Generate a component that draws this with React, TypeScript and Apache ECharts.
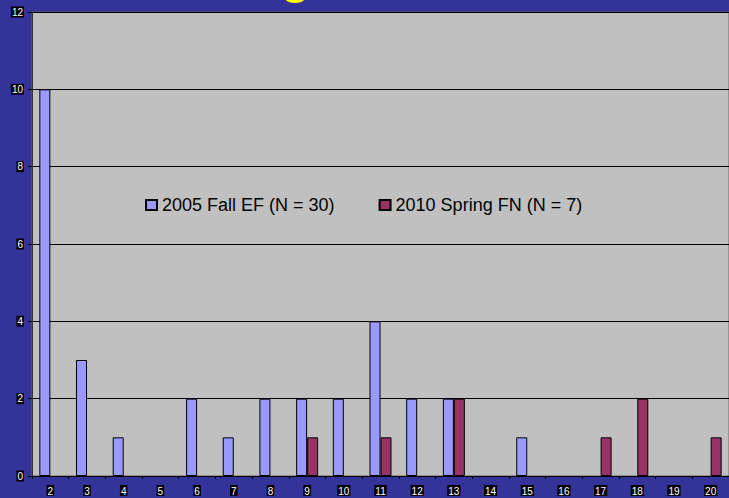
import React, { useEffect, useRef } from "react";
import * as echarts from "echarts";

const categories = ["2","3","4","5","6","7","8","9","10","11","12","13","14","15","16","17","18","19","20"];
const fall2005 = [10,3,1,0,2,1,2,2,2,4,2,2,0,1,0,0,0,0,0];
const spring2010 = [0,0,0,0,0,0,0,1,0,1,0,2,0,0,0,1,2,0,1];
const seriesNames = ["2005 Fall EF (N = 30)", "2010 Spring FN (N = 7)"];

const toBars = (arr: number[]) => arr.map((v) => (v === 0 ? null : v));

export default function App() {
  const ref = useRef<HTMLDivElement>(null);
  useEffect(() => {
    if (!ref.current) return;
    const chart = echarts.init(ref.current, null, { renderer: "svg" });
    const labelStyle = {
      color: "#fff",
      backgroundColor: "#000",
      fontFamily: "Liberation Sans, Arial, sans-serif",
      fontSize: 10,
      padding: [1, 1, 0, 1],
    };
    chart.setOption({
      animation: false,
      backgroundColor: "#333399",
      graphic: [
        { type: "ellipse", shape: { cx: 295, cy: -2, rx: 10, ry: 5 }, style: { fill: "#FFFF00" } },
      ],
      legend: {
        data: seriesNames,
        left: 145,
        top: 196,
        padding: 0,
        itemWidth: 11,
        itemHeight: 10,
        itemGap: 44,
        icon: "rect",
        textStyle: { color: "#000", fontSize: 18, fontFamily: "Liberation Sans, Arial, sans-serif" },
      },
      grid: {
        left: 32,
        top: 12,
        right: 0,
        bottom: 22,
        show: true,
        backgroundColor: "#C0C0C0",
        borderColor: "#666",
        borderWidth: 1,
      },
      xAxis: {
        type: "category",
        data: categories,
        axisLine: { lineStyle: { color: "#000" } },
        axisTick: { show: true, length: 3, lineStyle: { color: "#000" } },
        axisLabel: { ...labelStyle, margin: 9 },
      },
      yAxis: {
        type: "value",
        min: 0,
        max: 12,
        interval: 2,
        axisLine: { show: true, lineStyle: { color: "#333" } },
        axisTick: { show: true, length: 4, lineStyle: { color: "#000" } },
        splitLine: { lineStyle: { color: "#000", width: 1 } },
        axisLabel: { ...labelStyle, margin: 8 },
      },
      series: [
        {
          name: seriesNames[0],
          type: "bar",
          data: toBars(fall2005),
          barWidth: 11,
          barGap: "0%",
          itemStyle: { color: "#9999FF", borderColor: "#000", borderWidth: 1 },
        },
        {
          name: seriesNames[1],
          type: "bar",
          data: toBars(spring2010),
          barWidth: 11,
          barGap: "0%",
          itemStyle: { color: "#993366", borderColor: "#000", borderWidth: 1 },
        },
      ],
    });
    return () => chart.dispose();
  }, []);
  return <div ref={ref} style={{ width: 729, height: 498, position: "fixed", left: 0, top: 0 }} />;
}
